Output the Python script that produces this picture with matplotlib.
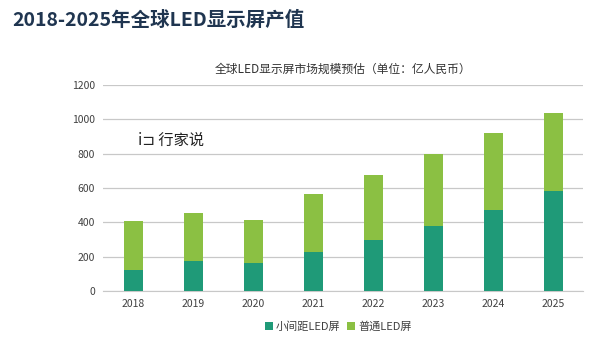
import numpy as np
import matplotlib.pyplot as plt

plt.rcParams['font.family'] = ['Noto Sans CJK SC', 'DejaVu Sans']

years = ['2018', '2019', '2020', '2021', '2022', '2023', '2024', '2025']
small_pitch = [122, 175, 163, 227, 295, 378, 472, 582]   # 小间距LED屏
total = [408, 452, 413, 563, 674, 796, 918, 1035]
normal = [t - s for t, s in zip(total, small_pitch)]      # 普通LED屏

dark_green = '#1f9a78'
light_green = '#8bc043'

fig = plt.figure(figsize=(6, 3.38), dpi=100)
ax = fig.add_axes([0.172, 0.139, 0.8, 0.61])

x = np.arange(len(years))
ax.bar(x, small_pitch, width=0.32, color=dark_green, label='小间距LED屏', zorder=3)
ax.bar(x, normal, width=0.32, bottom=small_pitch, color=light_green, label='普通LED屏', zorder=3)

ax.set_xlim(-0.5, 7.5)
ax.set_ylim(0, 1200)
ax.set_yticks(range(0, 1201, 200))
ax.set_xticks(x)
ax.set_xticklabels(years)
ax.tick_params(length=0, labelsize=7.5, labelcolor='#404040', pad=6)
ax.grid(axis='y', color='#c8c8c8', linewidth=0.9, zorder=0)
for s in ['top', 'right', 'left']:
    ax.spines[s].set_visible(False)
ax.spines['bottom'].set_color('#c8c8c8')

fig.text(0.02, 0.94, '2018-2025年全球LED显示屏产值', fontsize=14, fontweight='bold',
         color='#1f3550', va='center', ha='left')
fig.text(0.572, 0.795, '全球LED显示屏市场规模预估（单位：亿人民币）', fontsize=8.5,
         color='#333333', ha='center', va='center')

# watermark-like logo text
fig.text(0.23, 0.585, 'i⊐ 行家说', fontsize=11, color='#222222', ha='left', va='center')

ax.legend(loc='upper center', bbox_to_anchor=(0.49, -0.1), ncol=2, frameon=False,
          fontsize=8, handlelength=0.7, handleheight=0.7, handletextpad=0.3,
          columnspacing=0.6, labelcolor='#404040')

fig.savefig('out.png', dpi=100)
